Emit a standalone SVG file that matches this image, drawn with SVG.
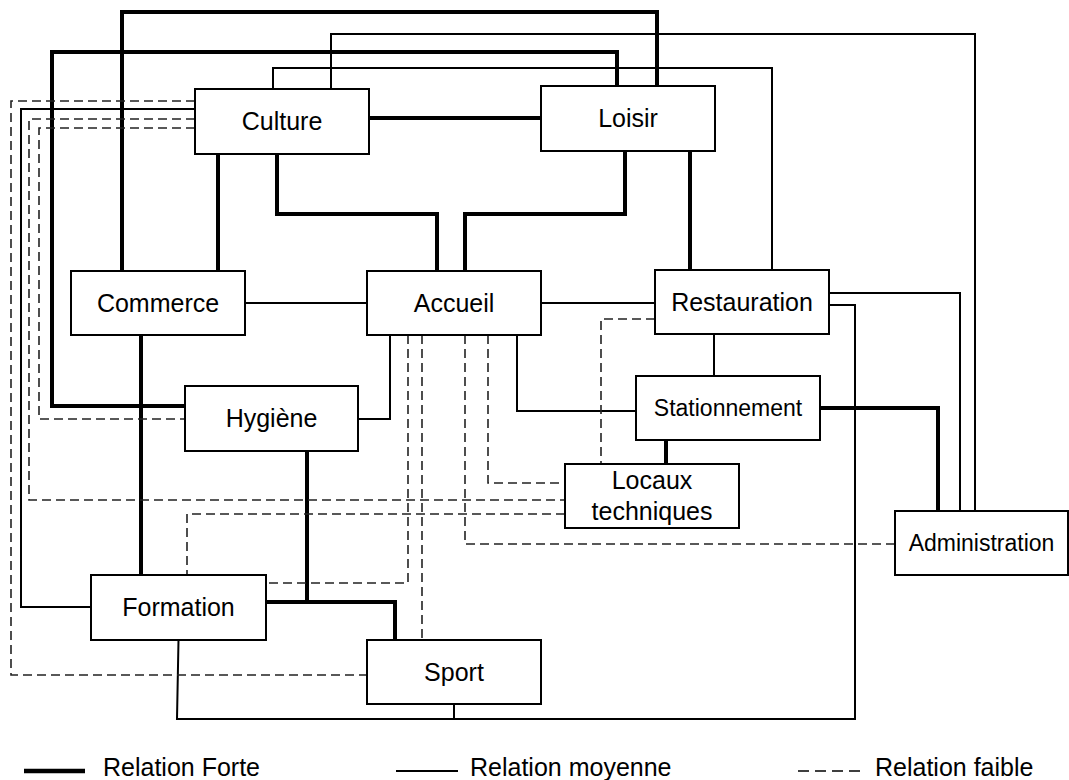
<svg xmlns="http://www.w3.org/2000/svg" width="1069" height="780" viewBox="0 0 1069 780">
<style>
.node rect{fill:#fff;stroke:#000;stroke-width:2}
.node text,.legend text{font-family:"Liberation Sans",Arial,sans-serif;font-size:25px;fill:#000;text-anchor:middle}
.small text{font-size:23px}
.strong{fill:none;stroke:#000;stroke-width:4;stroke-linejoin:miter}
.medium{fill:none;stroke:#000;stroke-width:2}
.weak{fill:none;stroke:#222;stroke-width:1.6;stroke-dasharray:9 5}
.legend text{text-anchor:start}
</style>
<rect width="1069" height="780" fill="#fff"/>
<g id="connectors">
  <!-- strong -->
  <path class="strong" d="M122,271 V12 H657 V86"/>
  <path class="strong" d="M185,406 H52 V52 H617 V86"/>
  <path class="strong" d="M369,118 H541"/>
  <path class="strong" d="M277,154 V214 H437 V271"/>
  <path class="strong" d="M625,151 V214 H465 V271"/>
  <path class="strong" d="M690,151 V270"/>
  <path class="strong" d="M218,154 V271"/>
  <path class="strong" d="M141,335 V575"/>
  <path class="strong" d="M307,451 V602"/>
  <path class="strong" d="M266,602 H395 V640"/>
  <path class="strong" d="M666,440 V464"/>
  <path class="strong" d="M820,408 H938 V511"/>
  <!-- medium -->
  <path class="medium" d="M331,89 V34 H975 V511"/>
  <path class="medium" d="M273,89 V68 H772 V270"/>
  <path class="medium" d="M245,303 H367"/>
  <path class="medium" d="M541,303 H655"/>
  <path class="medium" d="M829,293 H960 V511"/>
  <path class="medium" d="M829,305 H855 V719 H177 L178.5,640"/>
  <path class="medium" d="M454,704 V719"/>
  <path class="medium" d="M714,334 V376"/>
  <path class="medium" d="M517,335 V411 H636"/>
  <path class="medium" d="M390,335 V419 H358"/>
  <path class="medium" d="M195,109 H21 V607 H91"/>
  <!-- weak -->
  <path class="weak" d="M195,101 H11 V675 H367"/>
  <path class="weak" d="M195,119 H29 V500 H565"/>
  <path class="weak" d="M195,128 H39 V419 H185"/>
  <path class="weak" d="M565,514 H187 V575"/>
  <path class="weak" d="M408,335 V583 H266"/>
  <path class="weak" d="M422,335 V640"/>
  <path class="weak" d="M465,335 V544 H895"/>
  <path class="weak" d="M488,335 V483 H565"/>
  <path class="weak" d="M655,319 H601 V464"/>
</g>
<g id="culture" class="node"><rect x="195" y="89" width="174" height="65"/><text x="282" y="130">Culture</text></g>
<g id="loisir" class="node"><rect x="541" y="86" width="174" height="65"/><text x="628" y="127">Loisir</text></g>
<g id="commerce" class="node"><rect x="71" y="271" width="174" height="64"/><text x="158" y="312">Commerce</text></g>
<g id="accueil" class="node"><rect x="367" y="271" width="174" height="64"/><text x="454" y="312">Accueil</text></g>
<g id="restauration" class="node"><rect x="655" y="270" width="174" height="64"/><text x="742" y="311">Restauration</text></g>
<g id="hygiene" class="node"><rect x="185" y="386" width="173" height="65"/><text x="271.5" y="427">Hygiène</text></g>
<g id="stationnement" class="node small"><rect x="636" y="376" width="184" height="64"/><text x="728" y="416">Stationnement</text></g>
<g id="locaux" class="node"><rect x="565" y="464" width="174" height="64"/><text x="652" y="489">Locaux</text><text x="652" y="520">techniques</text></g>
<g id="administration" class="node small"><rect x="895" y="511" width="173" height="64"/><text x="981.5" y="551">Administration</text></g>
<g id="formation" class="node"><rect x="91" y="575" width="175" height="65"/><text x="178.5" y="616">Formation</text></g>
<g id="sport" class="node"><rect x="367" y="640" width="174" height="64"/><text x="454" y="681">Sport</text></g>
<g id="legend" class="legend">
  <line x1="24" y1="771" x2="85" y2="771" stroke="#000" stroke-width="4.5"/>
  <text x="103" y="776">Relation Forte</text>
  <line x1="396" y1="771" x2="458" y2="771" stroke="#000" stroke-width="2"/>
  <text x="470" y="776">Relation moyenne</text>
  <line x1="798" y1="771" x2="860" y2="771" stroke="#000" stroke-width="1.6" stroke-dasharray="11 6"/>
  <text x="875" y="776">Relation faible</text>
</g>
</svg>
